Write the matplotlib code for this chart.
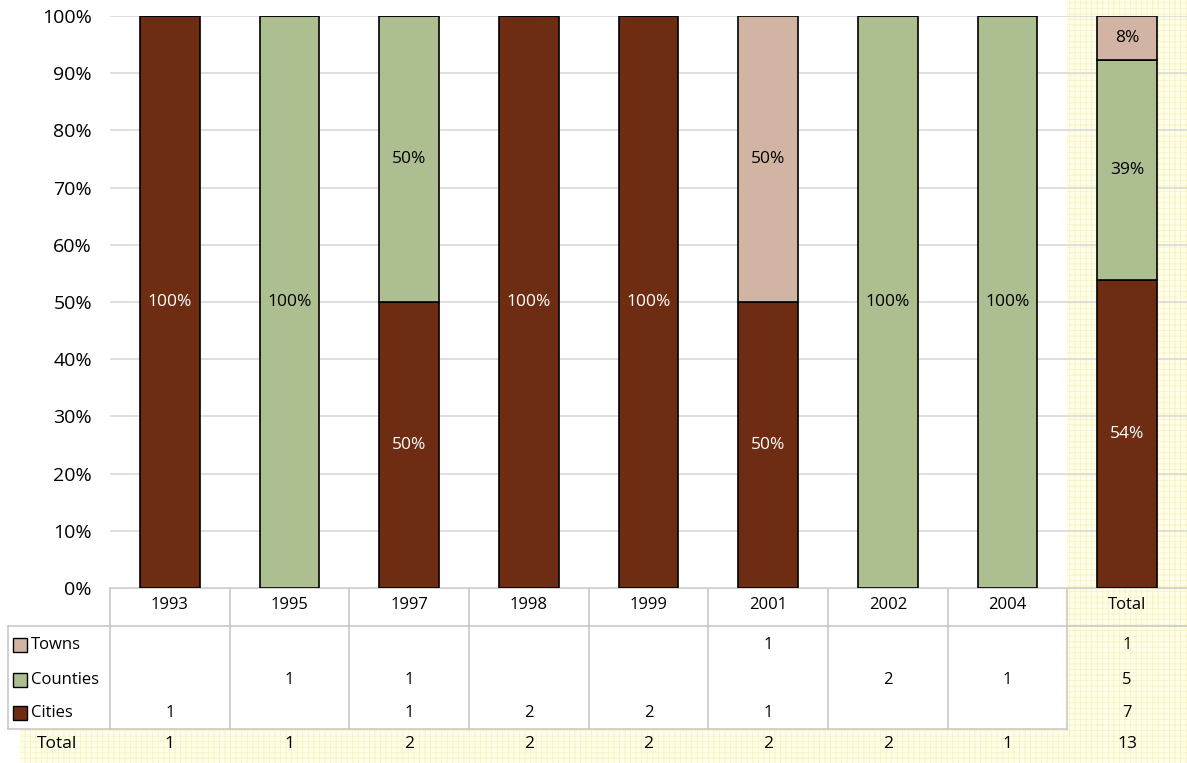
import matplotlib.pyplot as plt
from matplotlib.patches import Rectangle

years = ["1993", "1995", "1997", "1998", "1999", "2001", "2002", "2004", "Total"]
towns = [0, 0, 0, 0, 0, 1, 0, 0, 1]
counties = [0, 1, 1, 0, 0, 0, 2, 1, 5]
cities = [1, 0, 1, 2, 2, 1, 0, 0, 7]
totals = [1, 1, 2, 2, 2, 2, 2, 1, 13]

# data labels as printed on the chart
towns_lbl = ["", "", "", "", "", "50%", "", "", "8%"]
counties_lbl = ["", "100%", "50%", "", "", "", "100%", "100%", "39%"]
cities_lbl = ["100%", "", "50%", "100%", "100%", "50%", "", "", "54%"]

series = [("Cities", cities, cities_lbl, "#6e2d12", "white"),
          ("Counties", counties, counties_lbl, "#adbe91", "black"),
          ("Towns", towns, towns_lbl, "#d2b4a4", "black")]

plt.rcParams["font.family"] = ["Open Sans", "DejaVu Sans"]

W, H = 1187, 763
fig = plt.figure(figsize=(W / 100, H / 100), dpi=100)

# pixel layout
left, top, bottom = 110, 16, 588
cw = (W - left) / len(years)
row_y = {"Towns": 645, "Counties": 680, "Cities": 713, "Total": 744}

# background / table axes in pixel coordinates
bg = fig.add_axes([0, 0, 1, 1], zorder=0)
bg.set_xlim(0, W)
bg.set_ylim(H, 0)
bg.axis("off")

plt.rcParams["hatch.linewidth"] = 0.6
yellow = dict(facecolor="#fffee8", edgecolor="#f6f2c4", hatch="+++", linewidth=0)
tx = left + (len(years) - 1) * cw
bg.add_patch(Rectangle((tx, 0), W - tx, H, **yellow))
bg.add_patch(Rectangle((20, 730), W - 20, H - 730, **yellow))

line = dict(color="#c8c8c8", lw=1.2)
bg.plot([left, W], [bottom, bottom], **line)
bg.plot([8, W], [626, 626], **line)
bg.plot([8, tx], [729, 729], **line)
bg.plot([8, 8], [626, 729], **line)
for i in range(len(years)):
    x = left + i * cw
    bg.plot([x, x], [bottom, 729], **line)

for i, y in enumerate(years):
    cx = left + (i + 0.5) * cw
    bg.text(cx, 605, y, ha="center", va="center", fontsize=12)
    for name, vals, _, _, _ in series:
        if vals[i]:
            bg.text(cx, row_y[name], str(vals[i]), ha="center", va="center", fontsize=12)
    bg.text(cx, row_y["Total"], str(totals[i]), ha="center", va="center", fontsize=12.5)

for name, _, _, color, _ in series:
    y = row_y[name]
    bg.add_patch(Rectangle((13, y - 7), 14, 14, facecolor=color, edgecolor="black", lw=1))
    bg.text(31, y, name, ha="left", va="center", fontsize=12)
bg.text(57, row_y["Total"], "Total", ha="center", va="center", fontsize=12.5)

# bar chart
ax = fig.add_axes([left / W, 1 - bottom / H, (W - left) / W, (bottom - top) / H], zorder=1)
ax.patch.set_alpha(0)
x = list(range(len(years)))
base = [0.0] * len(years)
for name, vals, labels, color, tcolor in series:
    share = [v / t * 100 for v, t in zip(vals, totals)]
    bars = ax.bar(x, share, 0.5, bottom=base, color=color, edgecolor="black", lw=1.2, zorder=3)
    for b, s, b0, lbl in zip(bars, share, base, labels):
        if lbl:
            ax.text(b.get_x() + b.get_width() / 2, b0 + s / 2, lbl,
                    ha="center", va="center", color=tcolor, fontsize=12.5, zorder=4)
    base = [b0 + s for b0, s in zip(base, share)]

ax.set_xlim(-0.5, len(years) - 0.5)
ax.set_ylim(0, 100)
ax.set_yticks(range(0, 101, 10))
ax.set_yticklabels([f"{v}%" for v in range(0, 101, 10)], fontsize=14)
ax.set_xticks([])
ax.tick_params(axis="y", length=0, pad=13)
ax.grid(axis="y", color="#d9d9d9", lw=1.2, zorder=0)
for s in ax.spines.values():
    s.set_visible(False)

plt.savefig("out.png", dpi=100)
